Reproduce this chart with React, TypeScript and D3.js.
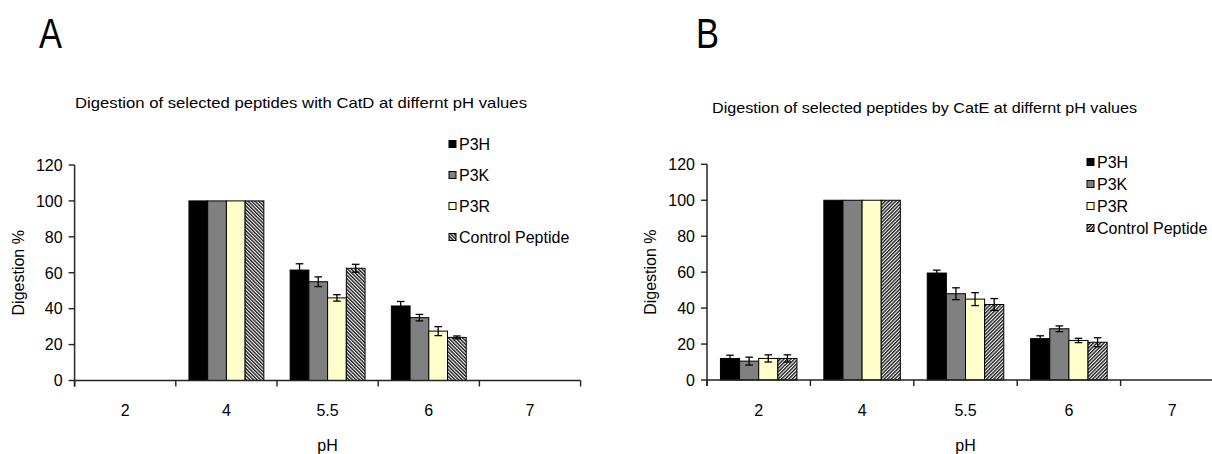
import React from "react";
import * as d3 from "d3";

// ---------- data ----------
const categories = ["2", "4", "5.5", "6", "7"];
const seriesNames = ["P3H", "P3K", "P3R", "Control Peptide"];
const yTicks = [0, 20, 40, 60, 80, 100, 120];

// Panel A: CatD
const catD_P3H = [null, 100, 61.5, 41.5, null];
const catD_P3K = [null, 100, 55, 35, null];
const catD_P3R = [null, 100, 46, 27.5, null];
const catD_Ctrl = [null, 100, 62.5, 24, null];
const catD_P3H_err = [null, 0, 3.5, 2.5, null];
const catD_P3K_err = [null, 0, 2.7, 1.8, null];
const catD_P3R_err = [null, 0, 1.8, 2.5, null];
const catD_Ctrl_err = [null, 0, 2.2, 0.8, null];

// Panel B: CatE
const catE_P3H = [12, 100, 59.5, 23, null];
const catE_P3K = [10.5, 100, 48, 28.5, null];
const catE_P3R = [12, 100, 45, 22, null];
const catE_Ctrl = [12, 100, 42, 21, null];
const catE_P3H_err = [1.8, 0, 1.6, 1.6, null];
const catE_P3K_err = [2.2, 0, 3.3, 1.6, null];
const catE_P3R_err = [2, 0, 3.6, 1.2, null];
const catE_Ctrl_err = [2, 0, 3.3, 2.5, null];

const titleA = "Digestion of selected peptides with CatD at differnt pH values";
const titleB = "Digestion of selected peptides by CatE at differnt pH values";

const FONT = "'Liberation Sans', Arial, sans-serif";
const fills = ["#000000", "#808080", "#FFFFCC", null];

type PanelProps = {
  letter: string;
  letterX: number;
  title: string;
  titleX: number;
  titleW: number;
  titleY: number;
  x0: number;
  x1: number;
  yTop: number;
  yBot: number;
  yLabelX: number;
  legendX: number;
  legendYs: number[];
  hatchId: string;
  values: (number | null)[][];
  errors: (number | null)[][];
};

function Panel(p: PanelProps) {
  const xBand = d3.scaleBand<string>().domain(categories).range([p.x0, p.x1]).paddingInner(0).paddingOuter(0);
  const bw = xBand.bandwidth();
  const gw = bw * 0.74;
  const inner = d3.scaleBand<string>().domain(seriesNames).range([(bw - gw) / 2, (bw + gw) / 2]);
  const y = d3.scaleLinear().domain([0, 120]).range([p.yBot, p.yTop]);
  const capW = 3.8;
  const bounds = [...categories.map((c) => xBand(c)!), p.x1];

  return (
    <g>
      <text x={p.letterX} y={48} fontFamily={FONT} fontSize={43} fontWeight={300} textLength={23} lengthAdjust="spacingAndGlyphs" fill="#000">{p.letter}</text>
      <text x={p.titleX} y={p.titleY} fontFamily={FONT} fontSize={15} textLength={p.titleW} lengthAdjust="spacingAndGlyphs" fill="#000">{p.title}</text>

      {/* bars */}
      {seriesNames.map((s, si) =>
        categories.map((c, ci) => {
          const v = p.values[si][ci];
          if (v == null) return null;
          const bx = xBand(c)! + inner(s)!;
          const fill = fills[si] ?? `url(#${p.hatchId})`;
          return (
            <rect key={s + c} x={bx} y={y(v)} width={inner.bandwidth()} height={y(0) - y(v)} fill={fill} stroke="#000" strokeWidth={1} />
          );
        })
      )}
      {/* error bars */}
      {seriesNames.map((s, si) =>
        categories.map((c, ci) => {
          const v = p.values[si][ci];
          const e = p.errors[si][ci];
          if (v == null || !e) return null;
          const cx = xBand(c)! + inner(s)! + inner.bandwidth() / 2;
          return (
            <g key={"e" + s + c} stroke="#000" strokeWidth={1.3}>
              <line x1={cx} x2={cx} y1={y(v + e)} y2={y(v - e)} />
              <line x1={cx - capW} x2={cx + capW} y1={y(v + e)} y2={y(v + e)} />
              <line x1={cx - capW} x2={cx + capW} y1={y(v - e)} y2={y(v - e)} />
            </g>
          );
        })
      )}

      {/* y axis */}
      <line x1={p.x0} x2={p.x0} y1={p.yTop} y2={p.yBot + 6} stroke="#333" strokeWidth={1.6} />
      {yTicks.map((t) => (
        <g key={"yt" + t}>
          <line x1={p.x0 - 6} x2={p.x0} y1={y(t)} y2={y(t)} stroke="#222" strokeWidth={1.4} />
          <text x={p.x0 - 12} y={y(t)} dy="0.36em" textAnchor="end" fontFamily={FONT} fontSize={16} fill="#000">{t}</text>
        </g>
      ))}
      {/* x axis */}
      <line x1={p.x0} x2={p.x1} y1={p.yBot} y2={p.yBot} stroke="#222" strokeWidth={1.6} />
      {bounds.map((b, i) => (
        <line key={"xt" + i} x1={b} x2={b} y1={p.yBot} y2={p.yBot + 6} stroke="#222" strokeWidth={1.4} />
      ))}
      {categories.map((c) => (
        <text key={"xl" + c} x={xBand(c)! + bw / 2} y={416} textAnchor="middle" fontFamily={FONT} fontSize={16} fill="#000">{c}</text>
      ))}
      <text x={(p.x0 + p.x0 + bw * 5) / 2} y={451} textAnchor="middle" fontFamily={FONT} fontSize={16} fill="#000">pH</text>
      <text transform={`translate(${p.yLabelX},${(p.yTop + p.yBot) / 2}) rotate(-90)`} textAnchor="middle" fontFamily={FONT} fontSize={16} fill="#000">Digestion %</text>

      {/* legend */}
      {seriesNames.map((s, si) => (
        <g key={"lg" + s}>
          <rect x={p.legendX} y={p.legendYs[si] - 3.5} width={7} height={7} fill={fills[si] ?? `url(#${p.hatchId}L)`} stroke="#000" strokeWidth={1} />
          <text x={p.legendX + 10} y={p.legendYs[si]} dy="0.36em" fontFamily={FONT} fontSize={16} fill="#000">{s}</text>
        </g>
      ))}
    </g>
  );
}

export default function App() {
  return (
    <svg width={1212} height={454} style={{ position: "absolute", left: 0, top: 0, background: "#fff" }}>
      <defs>
        <pattern id="hatchBack" patternUnits="userSpaceOnUse" width={2.5} height={2.5} patternTransform="rotate(-45)">
          <rect width={2.5} height={2.5} fill="#fff" />
          <line x1={0.7} x2={0.7} y1={0} y2={2.5} stroke="#000" strokeWidth={1.25} />
        </pattern>
        <pattern id="hatchBackL" patternUnits="userSpaceOnUse" width={2.5} height={2.5} patternTransform="rotate(-45)">
          <rect width={2.5} height={2.5} fill="#fff" />
          <line x1={0.7} x2={0.7} y1={0} y2={2.5} stroke="#000" strokeWidth={1.3} />
        </pattern>
        <pattern id="hatchFwd" patternUnits="userSpaceOnUse" width={2.5} height={2.5} patternTransform="rotate(45)">
          <rect width={2.5} height={2.5} fill="#fff" />
          <line x1={0.7} x2={0.7} y1={0} y2={2.5} stroke="#000" strokeWidth={1.25} />
        </pattern>
        <pattern id="hatchFwdL" patternUnits="userSpaceOnUse" width={2.5} height={2.5} patternTransform="rotate(45)">
          <rect width={2.5} height={2.5} fill="#fff" />
          <line x1={0.7} x2={0.7} y1={0} y2={2.5} stroke="#000" strokeWidth={1.3} />
        </pattern>
      </defs>
      <rect width={1212} height={454} fill="#fff" />
      <Panel
        letter="A" letterX={39} title={titleA} titleX={75} titleW={452} titleY={108}
        x0={74.6} x1={580.6} yTop={165} yBot={380.5} yLabelX={24}
        legendX={449} legendYs={[144, 175, 206, 237]} hatchId="hatchBack"
        values={[catD_P3H, catD_P3K, catD_P3R, catD_Ctrl]}
        errors={[catD_P3H_err, catD_P3K_err, catD_P3R_err, catD_Ctrl_err]}
      />
      <Panel
        letter="B" letterX={696} title={titleB} titleX={712} titleW={425} titleY={113}
        x0={707} x1={1224} yTop={164.3} yBot={380} yLabelX={656}
        legendX={1087} legendYs={[162, 184, 206, 228]} hatchId="hatchFwd"
        values={[catE_P3H, catE_P3K, catE_P3R, catE_Ctrl]}
        errors={[catE_P3H_err, catE_P3K_err, catE_P3R_err, catE_Ctrl_err]}
      />
    </svg>
  );
}
